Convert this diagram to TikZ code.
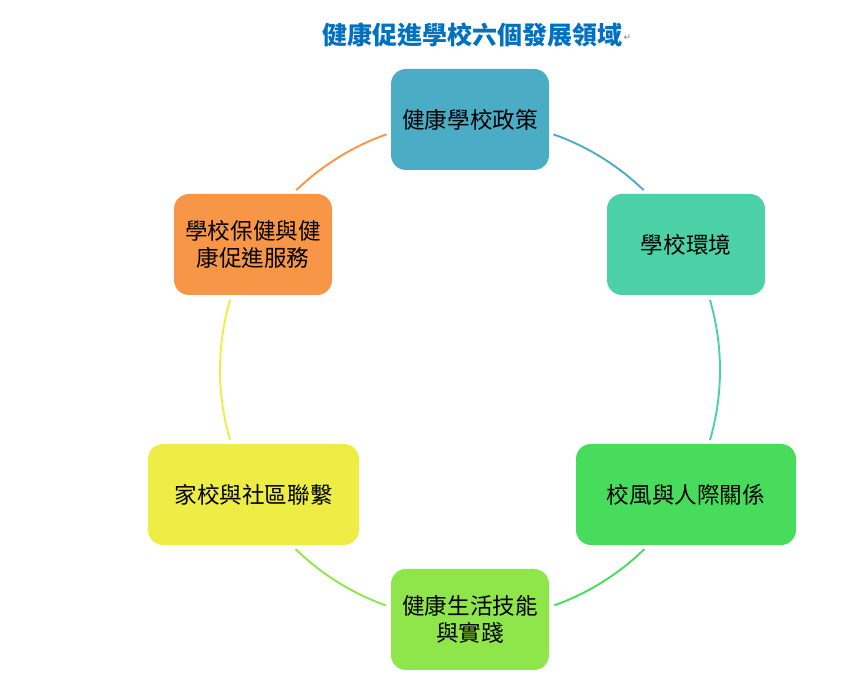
\documentclass[tikz,border=0pt]{standalone}
\usepackage{fontspec}
\newfontfamily\cjk{Noto Sans CJK TC}
\newfontfamily\symfont{DejaVu Sans}
\definecolor{cTop}{HTML}{4BACC6}
\definecolor{cRT}{HTML}{4BD1A5}
\definecolor{cRB}{HTML}{48DC5C}
\definecolor{cBot}{HTML}{8EE64A}
\definecolor{cLB}{HTML}{EDED45}
\definecolor{cLT}{HTML}{F79646}
\definecolor{cTitle}{HTML}{0070C0}
\tikzset{
  area/.style={rounded corners=15pt, minimum height=101pt, inner sep=2pt,
    font=\cjk\fontsize{22.6}{26.5}\selectfont, align=center, text=black},
  ring/.style={line width=1.9pt}
}
\begin{document}
\begin{tikzpicture}[x=1pt,y=1pt]
\useasboundingbox (0,0) rectangle (860,679);
\coordinate (c) at (470,309);
\node[font=\cjk\bfseries\fontsize{25}{30}\selectfont, text=cTitle] (title) at (472,644) {健康促進學校六個發展領域};
\node[font=\symfont\fontsize{9}{10}\selectfont, text=gray, anchor=west, inner sep=0pt] (mark) at ([xshift=-2pt,yshift=-3pt]title.east) {↵};
\node[area, fill=cTop, minimum width=158pt] (top) at (470,559.5) {健康學校政策};
\node[area, fill=cRT, minimum width=158pt] (rt) at (686,434.5) {學校環境};
\node[area, fill=cRB, minimum width=220pt] (rb) at (686,184.5) {校風與人際關係};
\node[area, fill=cBot, minimum width=158pt] (bot) at (470,59.5) {健康生活技能\\與實踐};
\node[area, fill=cLB, minimum width=211pt] (lb) at (253.5,184.5) {家校與社區聯繫};
\node[area, fill=cLT, minimum width=158pt] (lt) at (253,434.5) {學校保健與健\\康促進服務};
\draw[ring, cTop] ([shift={(70.5:250)}]c) arc[start angle=70.5, end angle=46, radius=250];
\draw[ring, cRT] ([shift={(16.3:250)}]c) arc[start angle=16.3, end angle=-16.3, radius=250];
\draw[ring, cRB] ([shift={(-45.8:250)}]c) arc[start angle=-45.8, end angle=-70.3, radius=250];
\draw[ring, cBot] ([shift={(-109.7:250)}]c) arc[start angle=-109.7, end angle=-134.2, radius=250];
\draw[ring, cLB] ([shift={(-163.7:250)}]c) arc[start angle=-163.7, end angle=-196.3, radius=250];
\draw[ring, cLT] ([shift={(134:250)}]c) arc[start angle=134, end angle=109.5, radius=250];
\end{tikzpicture}
\end{document}
